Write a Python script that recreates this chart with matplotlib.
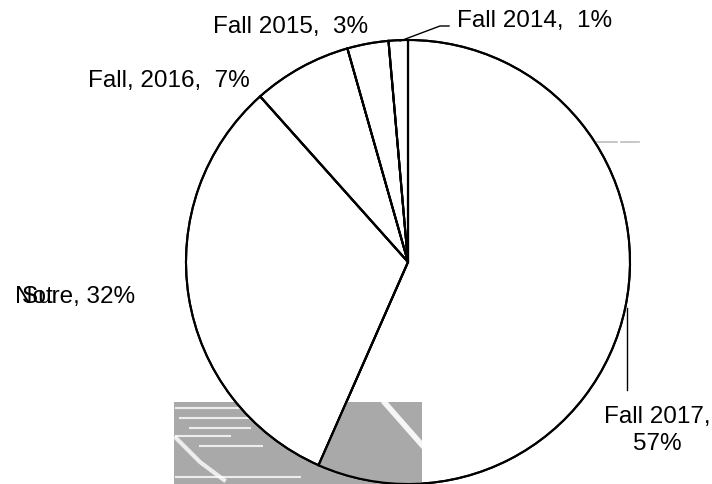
import matplotlib
matplotlib.use("Agg")
import matplotlib.pyplot as plt
from matplotlib.patches import Rectangle, PathPatch

# ---- data ----
categories = ["Fall 2017", "Not Sure", "Fall, 2016", "Fall 2015", "Fall 2014"]
shares = [56.6, 31.8, 7.2, 3.0, 1.4]   # percent of respondents

W, H = 712, 484
plt.rcParams['font.family'] = ['Liberation Sans', 'DejaVu Sans']

fig = plt.figure(figsize=(W / 100, H / 100), dpi=100)
ax = fig.add_axes([0, 0, 1, 1])

def Y(y):
    return H - y

# background artifact (grey scan patch)
grey = '#a9a9a9'
ax.add_patch(Rectangle((174, Y(484)), 248, 82, facecolor=grey, edgecolor='none', zorder=0))
for (x0, x1, yy) in [(176, 240, 408), (180, 260, 418), (190, 250, 428), (176, 230, 436),
                     (200, 262, 446), (176, 300, 477)]:
    ax.plot([x0, x1], [Y(yy), Y(yy)], color='white', lw=1.5, alpha=0.8, zorder=0.5)
ax.plot([176, 200, 224], [Y(438), Y(462), Y(480)], color='white', lw=3, alpha=0.8, zorder=0.5)

wedges, _ = ax.pie(shares, startangle=90, counterclock=False,
                   center=(408, Y(262)), radius=222, frame=True,
                   wedgeprops=dict(facecolor='white', edgecolor='black', linewidth=1.5))
for w in wedges:
    w.set_zorder(1)

# grey patch showing through the largest wedge
clip_rect = Rectangle((300, Y(484)), 122, 82, facecolor=grey, edgecolor='none', zorder=1.5)
ax.add_patch(clip_rect)
clip_rect.set_clip_path(wedges[0])
stripe, = ax.plot([385, 422], [Y(403), Y(445)], color='white', lw=4, alpha=0.9, zorder=1.6)
stripe.set_clip_path(wedges[0])
# redraw wedge edges on top of grey
for w in wedges:
    ax.add_patch(PathPatch(w.get_path(), transform=w.get_transform(),
                           facecolor='none', edgecolor='black', lw=1.5, zorder=2))

# faint dash artifacts
ax.plot([597, 617], [Y(142), Y(142)], color='#bdbdbd', lw=1.2, zorder=0.5)
ax.plot([621, 639], [Y(142), Y(142)], color='#bdbdbd', lw=1.2, zorder=0.5)

fs = 17.5
pct = [f"{round(s)}%" for s in shares]

# labels
ax.text(657, Y(450), f"{categories[0]},\n{pct[0]}", ha='center', va='baseline',
        fontsize=fs, linespacing=1.28, zorder=3)
ax.plot([627, 627], [Y(308), Y(390)], color='black', lw=1, zorder=3)

ax.text(15, Y(303), categories[1].split()[0], ha='left', va='baseline', fontsize=fs, zorder=3)
ax.text(135, Y(303), f"{categories[1].split()[1]}, {pct[1]}", ha='right', va='baseline',
        fontsize=fs, zorder=3)

ax.text(88, Y(87), f"{categories[2]},  {pct[2]}", ha='left', va='baseline', fontsize=fs, zorder=3)
ax.text(213, Y(33), f"{categories[3]},  {pct[3]}", ha='left', va='baseline', fontsize=fs, zorder=3)
ax.text(457, Y(27), f"{categories[4]},  {pct[4]}", ha='left', va='baseline', fontsize=fs, zorder=3)
ax.plot([400, 440, 449], [Y(41), Y(26), Y(26)], color='black', lw=1, zorder=3)

ax.set_xlim(0, W)
ax.set_ylim(0, H)
ax.set_aspect('equal')
ax.axis('off')

fig.savefig("out.png", dpi=100, facecolor='white')
